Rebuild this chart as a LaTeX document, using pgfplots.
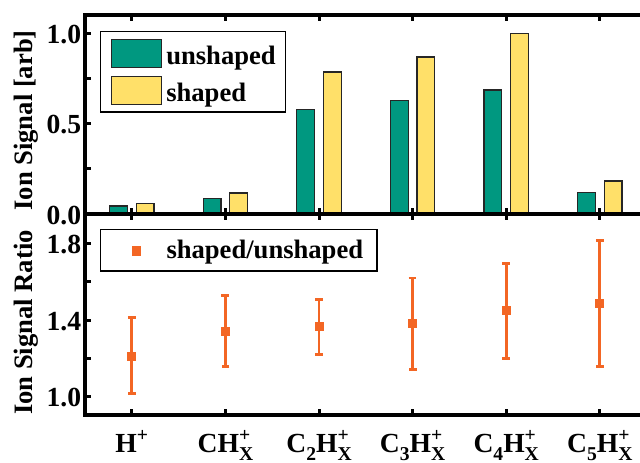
\documentclass[border=0pt]{standalone}
\usepackage{fontspec}
\setmainfont{Liberation Serif}
\usepackage{pgfplots}
\pgfplotsset{compat=1.18}
\definecolor{tealc}{RGB}{0,152,128}
\definecolor{yellowc}{RGB}{255,224,105}
\definecolor{orangec}{RGB}{243,102,36}
\newcommand{\lf}{\fontsize{13.3}{16}\selectfont\bfseries}
\newcommand{\tf}{\fontsize{13.8}{16}\selectfont\bfseries}
\newcommand{\psub}[1]{\raisebox{-4.2pt}{\fontsize{9.8}{10}\selectfont #1}}
\newcommand{\psup}[1]{\raisebox{5.2pt}{\fontsize{9.8}{10}\selectfont #1}}
\newcommand{\supsub}[2]{\rlap{\psup{#1}}\psub{#2}}
\pgfplotsset{
  myaxis/.style={
    scale only axis, width=280.8pt, xmin=-0.5, xmax=5.5,
    xtick={0,1,2,3,4,5}, xtick pos=both, ytick pos=left, tick align=inside,
    axis line style={line width=2.35pt},
    major tick length=3.2pt, minor tick length=3.2pt,
    every tick/.style={black, line width=1.5pt},
    tick label style={font=\tf},
    yticklabel style={anchor=east, inner sep=0pt, xshift=-1.75pt, yshift=-0.6pt,
      /pgf/number format/.cd, fixed, fixed zerofill, precision=1, assume math mode=true},
    ylabel style={at={(axis description cs:-0.0926,0.47)}, anchor=base, font=\lf},
    legend cell align=left,
    legend style={font=\lf, draw=black, line width=0.7pt, anchor=north west,
      nodes={anchor=base west, inner sep=0pt, text depth=0pt}},
  },
  barleg/.style={legend image code/.code={\draw[##1] (0pt,-1.5pt) rectangle (25pt,12.5pt); \path[draw=none,fill=none] (27.5pt,0pt);}},
  markleg/.style={legend image code/.code={\path[draw=none,fill=none] (0pt,-0.9pt) rectangle (25.9pt,9.1pt); \draw[##1] plot coordinates {(11pt,3.85pt)};}},
}
\begin{document}
\begin{tikzpicture}
\begin{axis}[myaxis, at={(0,0)}, anchor=south west, height=99.5pt,
  ymin=0, ymax=1.1, ytick={0,0.5,1}, minor ytick={0.25,0.75},
  xticklabels={},
  ylabel={Ion Signal [arb]},
  legend style={at={(axis description cs:0.0267,0.9196)}, inner xsep=5pt, inner ysep=3.4pt, row sep=4.15pt}]
\addplot[ybar, bar width=8.85pt, bar shift=-6.65pt, fill=tealc, draw=black!85, line width=0.6pt, barleg]
  coordinates {(0,0.044) (1,0.084) (2,0.576) (3,0.629) (4,0.686) (5,0.119)};
\addplot[ybar, bar width=8.85pt, bar shift=6.65pt, fill=yellowc, draw=black!85, line width=0.6pt, barleg]
  coordinates {(0,0.057) (1,0.116) (2,0.785) (3,0.868) (4,0.998) (5,0.182)};
\legend{unshaped, shaped}
\end{axis}
\begin{axis}[myaxis, at={(0,0)}, anchor=north west, height=100.5pt,
  ymin=0.905, ymax=1.953, ytick={1,1.4,1.8}, minor ytick={1.2,1.6},
  xticklabels={H\psup{+}, CH\supsub{+}{X}, C\psub{2}H\supsub{+}{X}, C\psub{3}H\supsub{+}{X}, C\psub{4}H\supsub{+}{X}, C\psub{5}H\supsub{+}{X}},
  xticklabel style={anchor=base, yshift=-18.5pt},
  ylabel={Ion Signal Ratio},
  ylabel style={at={(axis description cs:-0.0926,0.46)}},
  legend style={at={(axis description cs:0.0267,0.9254)}, inner xsep=7pt, inner ysep=5.25pt}]
\addplot[only marks, mark=square*, mark size=2pt, color=orangec, markleg,
  error bars/.cd, y dir=both, y explicit,
  error bar style={line width=1.4pt, orangec},
  error mark options={rotate=90, mark size=1.95pt, line width=1.4pt, orangec}]
  coordinates {
   (0,1.212) += (0,0.200) -= (0,0.196)
   (1,1.343) += (0,0.184) -= (0,0.186)
   (2,1.365) += (0,0.143) -= (0,0.144)
   (3,1.381) += (0,0.238) -= (0,0.238)
   (4,1.449) += (0,0.248) -= (0,0.251)
   (5,1.487) += (0,0.327) -= (0,0.329)
  };
\legend{shaped/unshaped}
\end{axis}
\pgfresetboundingbox
\path[use as bounding box] (-42.5pt,-124pt) rectangle (277.5pt,107pt);
\end{tikzpicture}
\end{document}
